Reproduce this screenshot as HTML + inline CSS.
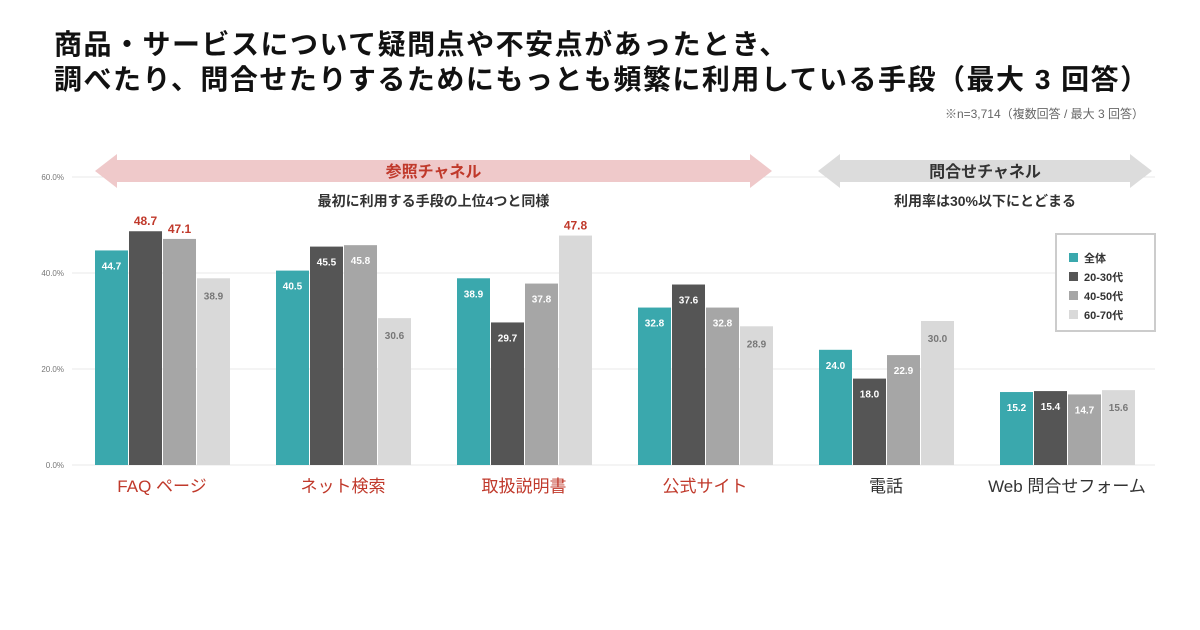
<!DOCTYPE html>
<html><head><meta charset="utf-8"><style>
body{margin:0;width:1200px;height:630px;background:#fff;overflow:hidden;font-family:"Liberation Sans","Noto Sans CJK JP",sans-serif}
.t{position:absolute;left:54px;font-size:28px;letter-spacing:1.5px;font-weight:bold;color:#111;line-height:36px;white-space:nowrap}
</style></head><body>
<div class="t" style="top:27px">商品・サービスについて疑問点や不安点があったとき、</div>
<div class="t" style="top:62px">調べたり、問合せたりするためにもっとも頻繁に利用している手段（最大 3 回答）</div>
<div style="position:absolute;right:56px;top:105px;font-size:12px;color:#666">※n=3,714（複数回答 / 最大 3 回答）</div>
<svg id="c" width="1200" height="630" style="position:absolute;left:0;top:0"></svg>
<script>
const categories=["FAQ ページ","ネット検索","取扱説明書","公式サイト","電話","Web 問合せフォーム"];
const seriesNames=["全体","20-30代","40-50代","60-70代"];
const sAll=[44.7,40.5,38.9,32.8,24.0,15.2];
const s2030=[48.7,45.5,29.7,37.6,18.0,15.4];
const s4050=[47.1,45.8,37.8,32.8,22.9,14.7];
const s6070=[38.9,30.6,47.8,28.9,30.0,15.6];
const ticks=[0,20,40,60];
const redLabels=[[0,1],[0,2],[2,3]];
const series=[sAll,s2030,s4050,s6070];
const colors=["#3aa8ad","#555555","#a6a6a6","#d9d9d9"];
const NS="http://www.w3.org/2000/svg",svg=document.getElementById("c");
const y=v=>465-v*4.8, gx=i=>95+i*181;
function el(t,a,txt){const e=document.createElementNS(NS,t);for(const k in a)e.setAttribute(k,a[k]);if(txt!=null)e.textContent=txt;svg.appendChild(e);return e;}
ticks.forEach(t=>{
 const l=el("line",{x1:72,x2:1155,y1:y(t),y2:y(t),stroke:"#e8e8e8","stroke-width":1});
 
 
 const tx=el("text",{x:64,y:y(t)+3,"font-size":8,fill:"#777","text-anchor":"end"},t.toFixed(1)+"%");
 
 
});
function arrow(x1,x2,fill,label,lc,sub,name){
 const yc=171,h=11,hw=22,hh=17;
 const p=el("polygon",{points:`${x1},${yc} ${x1+hw},${yc-hh} ${x1+hw},${yc-h} ${x2-hw},${yc-h} ${x2-hw},${yc-hh} ${x2},${yc} ${x2-hw},${yc+hh} ${x2-hw},${yc+h} ${x1+hw},${yc+h} ${x1+hw},${yc+hh}`,fill:fill});
 
 
 const t=el("text",{x:(x1+x2)/2,y:yc+6,"font-size":16,"font-weight":"bold",fill:lc,"text-anchor":"middle"},label);
 
 
 const s=el("text",{x:(x1+x2)/2,y:206,"font-size":14,"font-weight":"bold",fill:"#333","text-anchor":"middle"},sub);
 
 
}
arrow(95,772,"#efc9ca","参照チャネル","#c0392b","最初に利用する手段の上位4つと同様","reference-channel-arrow");
arrow(818,1152,"#dcdcdc","問合せチャネル","#333","利用率は30%以下にとどまる","inquiry-channel-arrow");
categories.forEach((c,i)=>{
 series.forEach((s,j)=>{
  const v=s[i],x=gx(i)+j*34;
  const r=el("rect",{x:x,y:y(v),width:33,height:465-y(v),fill:colors[j]});
  
  
  const red=redLabels.some(a=>a[0]==i&&a[1]==j);
  let ty,fc;
  if(red){ty=y(v)-6;fc="#c0392b";}
  else if(j==3){ty=y(v)+21;fc="#777";}
  else{ty=y(v)+19;fc="#fff";}
  const t=el("text",{x:x+16.5,y:ty,"font-size":red?12:10,"font-weight":"bold",fill:fc,"text-anchor":"middle"},v.toFixed(1));
  
  
 });
 const l=el("text",{x:gx(i)+67,y:492,"font-size":17,fill:i<4?"#c0392b":"#333","text-anchor":"middle"},c);
 
 
});
const lb=el("rect",{x:1056,y:234,width:99,height:97,fill:"#fff",stroke:"#ccc","stroke-width":2});


seriesNames.forEach((n,j)=>{
 const r=el("rect",{x:1069,y:253+j*19,width:9,height:9,fill:colors[j]});
 
 
 const t=el("text",{x:1084,y:262+j*19,"font-size":11,"font-weight":"bold",fill:"#333"},n);
 
 
});
</script>
</body></html>
